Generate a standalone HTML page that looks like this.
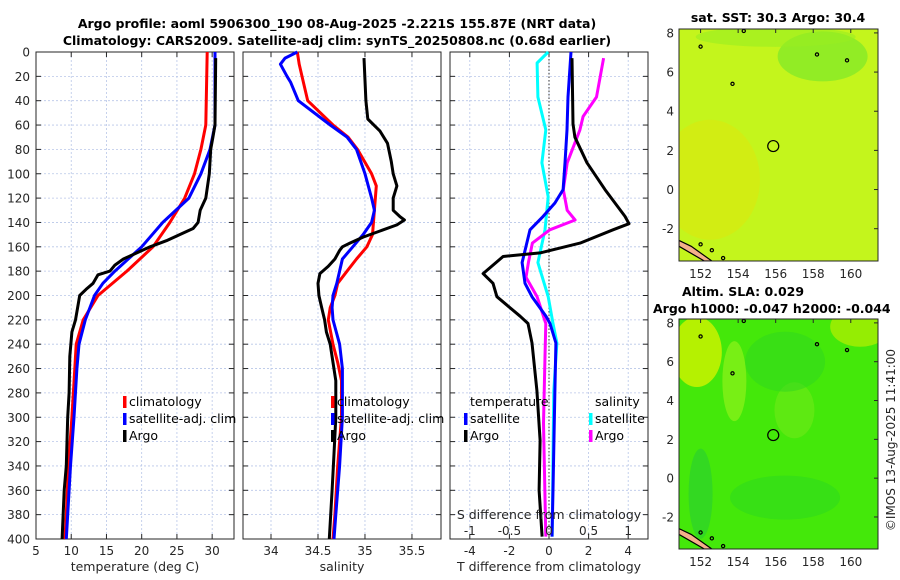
<!DOCTYPE html>
<html><head><meta charset="utf-8"><style>
html,body{margin:0;padding:0;background:#fff;}
svg{display:block;font-family:"DejaVu Sans","Liberation Sans",sans-serif;}
.tk{font-size:12px;fill:#262626;}
.ttl{font-size:12.5px;font-weight:bold;fill:#000;}
.lg{font-size:12.5px;fill:#000;}
</style></head><body>
<svg id="fig" width="900" height="580" viewBox="0 0 900 580">
<text class="ttl" x="337" y="28" text-anchor="middle">Argo profile: aoml 5906300_190 08-Aug-2025 -2.221S 155.87E (NRT data)</text>
<text class="ttl" x="337" y="45" text-anchor="middle">Climatology: CARS2009. Satellite-adj clim: synTS_20250808.nc (0.68d earlier)</text>
<g id="plots"></g>
</svg>
<script>
// ---------- DATA ----------
const tClimDepth=[0,60,80,100,120,140,160,180,200,220,240,260,300,340,380,400];
const tClim=[29.3,29.1,28.4,27.5,26.1,24.0,21.6,17.9,13.8,11.7,10.7,10.5,10.1,9.6,9.3,9.1];
const tSatDepth=[0,60,80,100,120,140,160,180,190,200,220,240,260,300,340,380,400];
const tSat=[30.4,30.4,29.7,28.4,26.7,23.0,20.0,16.2,14.5,13.3,12.0,11.1,10.8,10.4,9.9,9.5,9.3];
const tArgoDepth=[5,60,70,80,100,120,130,140,145,150,155,160,165,170,175,180,183,190,195,200,210,220,230,250,280,300,340,360,400];
const tArgo=[30.5,30.4,30.1,29.8,29.6,29.1,28.3,28.0,27.3,25.4,23.5,21.2,19.3,17.4,16.2,15.5,13.8,13.1,12.1,11.2,10.9,10.6,10.1,9.8,9.7,9.5,9.3,9.0,8.7];

const sClimDepth=[0,10,20,40,60,70,80,100,110,130,150,160,170,180,190,200,210,220,240,255,270,300,340,380,400];
const sClim=[34.28,34.30,34.33,34.39,34.66,34.82,34.92,35.07,35.12,35.10,35.08,35.02,34.91,34.81,34.71,34.68,34.63,34.61,34.66,34.71,34.75,34.75,34.71,34.68,34.66];
const sSatDepth=[0,5,10,20,25,40,60,70,80,100,120,130,140,150,160,170,180,190,200,210,220,240,260,300,340,380,400];
const sSat=[34.28,34.15,34.10,34.17,34.21,34.29,34.63,34.81,34.91,35.00,35.07,35.10,35.07,34.98,34.87,34.76,34.73,34.70,34.66,34.65,34.66,34.73,34.76,34.76,34.73,34.69,34.67];
const sArgoDepth=[5,40,55,65,75,90,100,110,120,130,135,138,142,147,152,157,160,163,170,176,182,190,200,210,220,230,240,255,270,300,330,360,400];
const sArgo=[34.99,35.01,35.03,35.16,35.24,35.28,35.30,35.34,35.30,35.30,35.37,35.42,35.34,35.16,34.98,34.84,34.76,34.73,34.68,34.61,34.52,34.50,34.51,34.54,34.57,34.59,34.63,34.66,34.69,34.69,34.67,34.65,34.62];

const dSSatDepth=[0,9,37,64,91,119,146,173,201,223,239,278,332,398];
const dSSat=[-0.01,-0.15,-0.14,-0.04,-0.09,-0.01,-0.05,-0.14,-0.01,0.05,0.10,0.06,0.05,0.04];
const dSArgoDepth=[5,37,53,64,91,113,130,138,146,157,173,185,201,223,250,305,398];
const dSArgo=[0.69,0.60,0.43,0.39,0.23,0.18,0.23,0.33,0.01,-0.21,-0.26,-0.29,-0.15,-0.04,-0.05,-0.07,-0.04];
const dTSatDepth=[0,37,64,91,113,124,135,146,173,190,201,217,223,239,278,360,398];
const dTSat=[1.11,0.96,0.91,0.81,0.71,0.30,-0.30,-0.96,-1.36,-1.21,-0.86,-0.15,0.05,0.35,0.30,0.20,0.15];
const dTArgoDepth=[5,59,70,91,113,135,141,146,157,165,168,182,190,201,217,223,239,278,319,360,398];
const dTArgo=[1.16,1.21,1.31,1.92,2.83,3.84,4.04,3.23,1.57,-0.45,-2.32,-3.33,-2.83,-2.63,-1.46,-1.06,-0.86,-0.61,-0.45,-0.50,-0.35];

const depthTicks=[0,20,40,60,80,100,120,140,160,180,200,220,240,260,280,300,320,340,360,380,400];
const tTicks=[5,10,15,20,25,30];
const sTicks=[34,34.5,35,35.5];
const dTTicks=[-4,-2,0,2,4];
const dSTicks=[-1,-0.5,0,0.5,1];
const latTicks=[8,6,4,2,0,-2];
const lonTicks=[152,154,156,158,160];
const argoLon=[155.87], argoLat=[2.22];

// ---------- HELPERS ----------
const NS="http://www.w3.org/2000/svg";
const root=document.getElementById('plots');
function mk(tag,attrs,parent){const e=document.createElementNS(NS,tag);for(const k in attrs)e.setAttribute(k,attrs[k]);(parent||root).appendChild(e);return e;}
const Y0=52,Y1=539;
const yD=d=>Y0+(d/400)*(Y1-Y0);
function lin(d0,d1,r0,r1){return v=>r0+(v-d0)/(d1-d0)*(r1-r0);}

function panel(x0,x1,xs,xticks,fmt,name,xlabel,showY){
  const g=mk('g',{});
  
  
  xticks.forEach(t=>{const l=mk('line',{x1:xs(t),x2:xs(t),y1:Y0,y2:Y1,stroke:'#b8c6e8','stroke-width':0.8,'stroke-dasharray':'2,2'},g);
    });
  depthTicks.forEach(t=>{const l=mk('line',{x1:x0,x2:x1,y1:yD(t),y2:yD(t),stroke:'#b8c6e8','stroke-width':0.8,'stroke-dasharray':'2,2'},g);
    
    const a=mk('line',{x1:x0,x2:x0+5,y1:yD(t),y2:yD(t),stroke:'#262626'},g);
    const b=mk('line',{x1:x1-5,x2:x1,y1:yD(t),y2:yD(t),stroke:'#262626'},g);
    if(showY){const tx=mk('text',{x:x0-6,y:yD(t)+4.5,'text-anchor':'end',class:'tk'},g);tx.textContent=t;
      }
  });
  xticks.forEach(t=>{const a=mk('line',{x1:xs(t),x2:xs(t),y1:Y1,y2:Y1-5,stroke:'#262626'},g);
    const b=mk('line',{x1:xs(t),x2:xs(t),y1:Y0,y2:Y0+5,stroke:'#262626'},g);
    const tx=mk('text',{x:xs(t),y:555,'text-anchor':'middle',class:'tk'},g);tx.textContent=fmt(t);
    });
  const r=mk('rect',{x:x0,y:Y0,width:x1-x0,height:Y1-Y0,fill:'none',stroke:'#262626','stroke-width':1},g);
  
  const xl=mk('text',{x:(x0+x1)/2,y:571,'text-anchor':'middle',class:'tk',style:'font-size:12.5px'},g);xl.textContent=xlabel;
  
  return g;
}
function series(g,xs,depths,vals,color,name){
  const d=vals.map((v,i)=>(i?'L':'M')+xs(v).toFixed(1)+','+yD(depths[i]).toFixed(1)).join(' ');
  const p=mk('path',{d:d,fill:'none',stroke:color,'stroke-width':3,'stroke-linejoin':'round'},g);
  
}
function legend(g,x,y,color,label,name){
  const b=mk('rect',{x:x,y:y-10,width:3.5,height:12,fill:color},g);
  
  const t=mk('text',{x:x+6,y:y,class:'lg'},g);t.textContent=label;
  
}

// Temperature panel
const xT=lin(5,33.1,36,234);
const g1=panel(36,234,xT,tTicks,v=>v,'temperature-panel','temperature (deg C)',true);
series(g1,xT,tClimDepth,tClim,'#ff0000','climatology-temperature-line');
series(g1,xT,tSatDepth,tSat,'#0000ff','satellite-temperature-line');
series(g1,xT,tArgoDepth,tArgo,'#000000','argo-temperature-line');
legend(g1,123,406,'#ff0000','climatology','legend-climatology');
legend(g1,123,423,'#0000ff','satellite-adj. clim','legend-satellite-adj');
legend(g1,123,440,'#000000','Argo','legend-argo');

// Salinity panel
const xS=lin(33.702,35.809,243,441);
const g2=panel(243,441,xS,sTicks,v=>v,'salinity-panel','salinity',false);
series(g2,xS,sClimDepth,sClim,'#ff0000','climatology-salinity-line');
series(g2,xS,sSatDepth,sSat,'#0000ff','satellite-salinity-line');
series(g2,xS,sArgoDepth,sArgo,'#000000','argo-salinity-line');
legend(g2,331,406,'#ff0000','climatology','legend-climatology');
legend(g2,331,423,'#0000ff','satellite-adj. clim','legend-satellite-adj');
legend(g2,331,440,'#000000','Argo','legend-argo');

// Difference panel
const xDT=lin(-5,5,450,648);
const xDS=lin(-1.25,1.25,450,648);
const g3=panel(450,648,xDT,dTTicks,v=>v,'difference-panel','T difference from climatology',false);
const zl=mk('line',{x1:xDT(0),x2:xDT(0),y1:Y0,y2:Y1,stroke:'#333','stroke-width':1,'stroke-dasharray':'1.5,2'},g3);

series(g3,xDS,dSSatDepth,dSSat,'#00ffff','satellite-salinity-diff-line');
series(g3,xDS,dSArgoDepth,dSArgo,'#ff00ff','argo-salinity-diff-line');
series(g3,xDT,dTSatDepth,dTSat,'#0000ff','satellite-temperature-diff-line');
series(g3,xDT,dTArgoDepth,dTArgo,'#000000','argo-temperature-diff-line');
let t=mk('text',{x:470,y:406,class:'lg'},g3);t.textContent='temperature';

t=mk('text',{x:595,y:406,class:'lg'},g3);t.textContent='salinity';

legend(g3,464,423,'#0000ff','satellite','legend-t-satellite');
legend(g3,464,440,'#000000','Argo','legend-t-argo');
legend(g3,589,423,'#00ffff','satellite','legend-s-satellite');
legend(g3,589,440,'#ff00ff','Argo','legend-s-argo');
t=mk('text',{x:549,y:519,'text-anchor':'middle',class:'tk',style:'font-size:12.5px'},g3);t.textContent='S difference from climatology';

dSTicks.forEach(v=>{const l=mk('text',{x:xDS(v),y:535,'text-anchor':'middle',class:'tk'},g3);l.textContent=v;
  });

// ---------- MAPS ----------
function map(y0,y1,name,colors,blobs){
  const x0=679,x1=878;
  const xs=lin(150.85,161.45,x0,x1), ys=lin(8.2,-3.65,y0,y1);
  const g=mk('g',{});
  
  const id=name+'-clip';
  const cp=mk('clipPath',{id:id},g);mk('rect',{x:x0,y:y0,width:x1-x0,height:y1-y0},cp);
  const inner=mk('g',{'clip-path':'url(#'+id+')'},g);
  const bg=mk('rect',{x:x0,y:y0,width:x1-x0,height:y1-y0,fill:colors},inner);
  
  blobs.forEach(b=>{const e=mk('ellipse',{cx:xs(b[0]),cy:ys(b[1]),rx:b[2],ry:b[3],fill:b[4],opacity:b[5]},inner);
    });
  const c=mk('polygon',{points:`${x0},${ys(-2.6)} ${xs(151.5)},${ys(-2.9)} ${xs(152.6)},${ys(-3.65)} ${xs(152.2)},${ys(-3.65)} ${x0},${ys(-2.9)}`,fill:'#f4b08a',stroke:'#000','stroke-width':1.2},inner);
  
  [[152,7.3],[158.2,6.9],[153.7,5.4],[152,-2.8],[152.6,-3.1],[153.2,-3.5],[154.3,8.1],[159.8,6.6]].forEach(p=>{
    const d=mk('circle',{cx:xs(p[0]),cy:ys(p[1]),r:1.6,fill:'none',stroke:'#000','stroke-width':1.2},inner);
    });
  const ac=mk('circle',{cx:xs(argoLon[0]),cy:ys(argoLat[0]),r:5.5,fill:'none',stroke:'#000','stroke-width':1.2},g);
  
  mk('rect',{x:x0,y:y0,width:x1-x0,height:y1-y0,fill:'none',stroke:'#262626'},g);
  latTicks.forEach(v=>{const l=mk('text',{x:x0-5,y:ys(v)+4.5,'text-anchor':'end',class:'tk'},g);l.textContent=v;
    
    mk('line',{x1:x1,x2:x1-4,y1:ys(v),y2:ys(v),stroke:'#262626'},g);});
  lonTicks.forEach(v=>{const l=mk('text',{x:xs(v),y:y1+17,'text-anchor':'middle',class:'tk'},g);l.textContent=v;
    
    mk('line',{x1:xs(v),x2:xs(v),y1:y0,y2:y0+4,stroke:'#262626'},g);});
  return g;
}
const m1=map(29,261,'sst-map','#c4f51c',[[152.5,0.5,50,60,'#d8ea10',0.7],[158.5,6.8,45,25,'#7ee82a',0.7],[156,7.8,80,10,'#9aee22',0.6]]);
let tt=mk('text',{x:778,y:22,'text-anchor':'middle',class:'ttl'},m1);tt.textContent='sat. SST: 30.3 Argo: 30.4';

const m2=map(319,549,'sla-map','#44e80a',[[151.8,6.5,25,35,'#c2f200',0.9],[153.8,5,12,40,'#8ef21a',0.7],[157,3.5,20,28,'#70ea18',0.6],[152,-0.8,12,45,'#22c83a',0.5],[156.5,-1,55,22,'#2ad820',0.5],[156.5,6,40,30,'#2ed620',0.5],[160.5,7.8,30,20,'#b8f000',0.7]]);
tt=mk('text',{x:743,y:296,'text-anchor':'middle',class:'ttl'},m2);tt.textContent='Altim. SLA: 0.029';

tt=mk('text',{x:653,y:313,class:'ttl'},m2);tt.textContent='Argo h1000: -0.047 h2000: -0.044';

tt=mk('text',{x:0,y:0,'text-anchor':'middle',class:'tk',transform:'translate(895,440) rotate(-90)'});tt.textContent='©IMOS 13-Aug-2025 11:41:00';

</script>
</body></html>
